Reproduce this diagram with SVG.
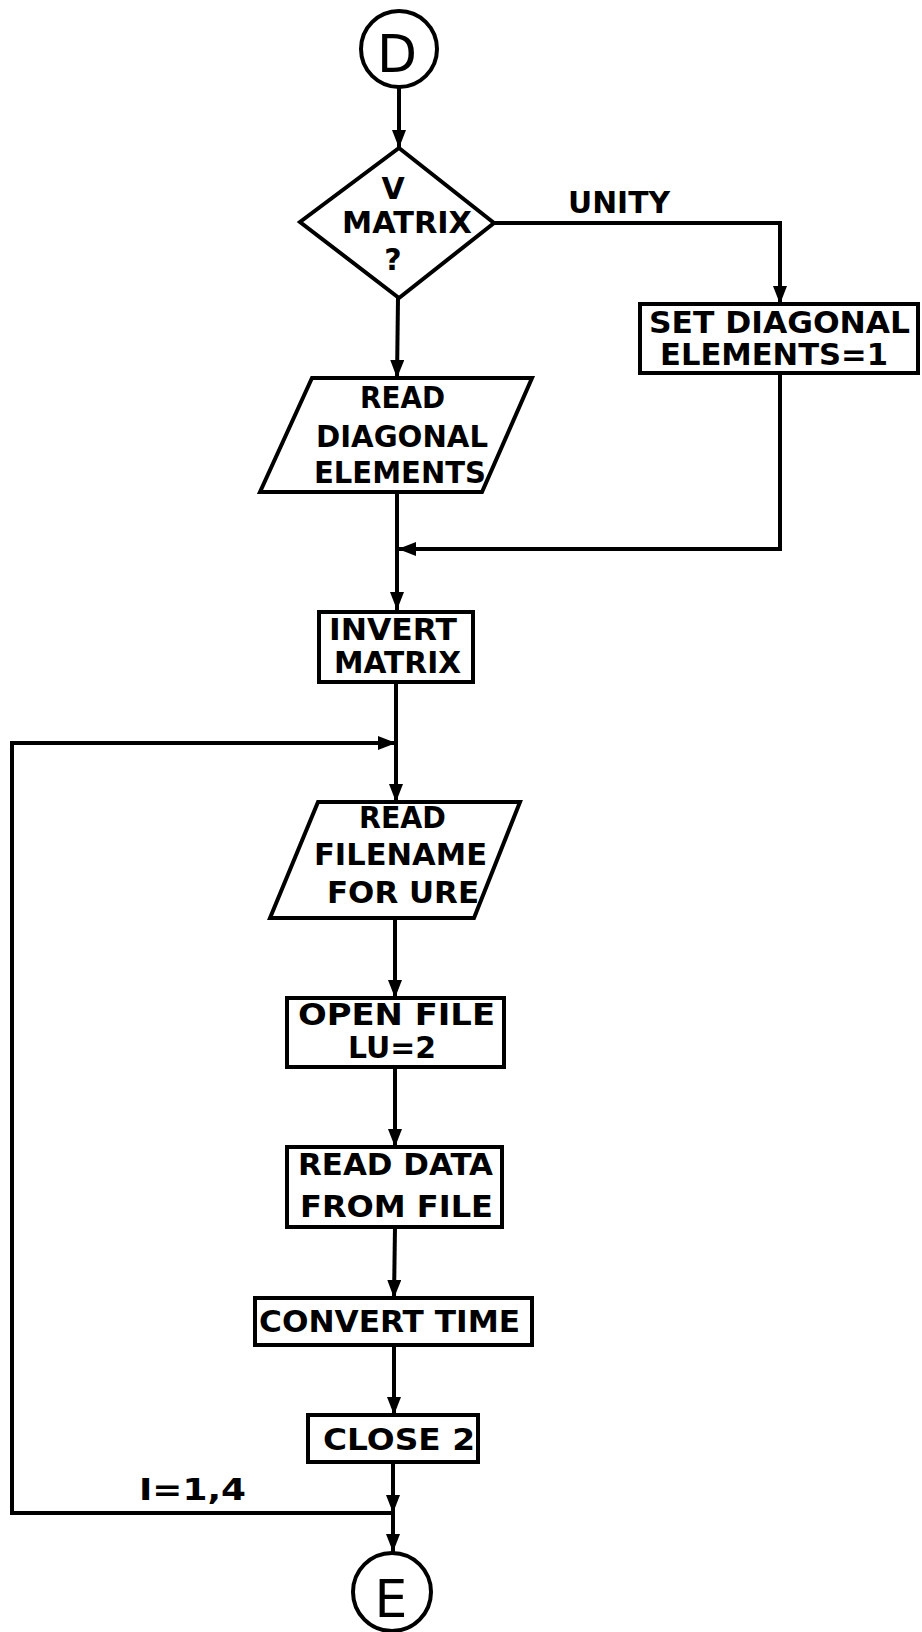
<svg xmlns="http://www.w3.org/2000/svg" width="922" height="1632" viewBox="0 0 922 1632">
<style>
.shape{fill:#fff;stroke:#000;stroke-width:4;stroke-linejoin:miter}
.line{fill:none;stroke:#000;stroke-width:4}
.t{font-family:"DejaVu Sans","Liberation Sans",sans-serif;font-weight:bold;font-size:30px;fill:#000}
.c{font-family:"DejaVu Sans","Liberation Sans",sans-serif;font-size:52px;fill:#000}
</style>
<defs>
<marker id="ah" markerUnits="userSpaceOnUse" markerWidth="18" markerHeight="14" refX="18" refY="7" orient="auto">
<path d="M0,0 L18,7 L0,14 z" fill="#000"/>
</marker>
</defs>
<rect width="922" height="1632" fill="#fff"/>
<g id="connectors">
<path class="line" d="M399,88 L399,148" marker-end="url(#ah)"/>
<path class="line" d="M494,223 L780,223 L780,304" marker-end="url(#ah)"/>
<path class="line" d="M398,298 L397,378" marker-end="url(#ah)"/>
<path class="line" d="M397,492 L397,610" marker-end="url(#ah)"/>
<path class="line" d="M780,373 L780,549 L398,549" marker-end="url(#ah)"/>
<path class="line" d="M396,682 L396,802" marker-end="url(#ah)"/>
<path class="line" d="M393,1513 L12,1513 L12,743 L396,743" marker-end="url(#ah)"/>
<path class="line" d="M395,918 L395,998" marker-end="url(#ah)"/>
<path class="line" d="M395,1067 L395,1147" marker-end="url(#ah)"/>
<path class="line" d="M395,1227 L394,1298" marker-end="url(#ah)"/>
<path class="line" d="M394,1345 L394,1415" marker-end="url(#ah)"/>
<path class="line" d="M393,1462 L393,1513" marker-end="url(#ah)"/>
<path class="line" d="M393,1513 L393,1552" marker-end="url(#ah)"/>
<text class="t" x="568" y="213" textLength="102" lengthAdjust="spacingAndGlyphs">UNITY</text>
<text class="t" x="139" y="1500" textLength="107" lengthAdjust="spacingAndGlyphs">I=1,4</text>
</g>
<g id="start-D">
<circle class="shape" cx="399" cy="49" r="38"/>
<text class="c" x="397" y="72" text-anchor="middle">D</text>
</g>
<g id="decision-V-matrix">
<polygon class="shape" points="399,148 494,223 399,298 300,222"/>
<text class="t" x="393" y="199" text-anchor="middle">V</text>
<text class="t" x="342" y="233" textLength="130" lengthAdjust="spacingAndGlyphs">MATRIX</text>
<text class="t" x="393" y="270" text-anchor="middle">?</text>
</g>
<g id="set-diagonal">
<rect class="shape" x="640" y="304" width="278" height="69"/>
<text class="t" x="649" y="333" textLength="261" lengthAdjust="spacingAndGlyphs">SET DIAGONAL</text>
<text class="t" x="660" y="365" textLength="228" lengthAdjust="spacingAndGlyphs">ELEMENTS=1</text>
</g>
<g id="read-diagonal">
<polygon class="shape" points="312,378 532,378 482,492 260,492"/>
<text class="t" x="360" y="408" textLength="85" lengthAdjust="spacingAndGlyphs">READ</text>
<text class="t" x="316" y="447" textLength="172" lengthAdjust="spacingAndGlyphs">DIAGONAL</text>
<text class="t" x="314" y="483" textLength="172" lengthAdjust="spacingAndGlyphs">ELEMENTS</text>
</g>
<g id="invert-matrix">
<rect class="shape" x="319" y="612" width="154" height="70"/>
<text class="t" x="329" y="640" textLength="128" lengthAdjust="spacingAndGlyphs">INVERT</text>
<text class="t" x="334" y="673" textLength="127" lengthAdjust="spacingAndGlyphs">MATRIX</text>
</g>
<g id="read-filename">
<polygon class="shape" points="318,802 520,802 474,918 270,918"/>
<text class="t" x="359" y="828" textLength="87" lengthAdjust="spacingAndGlyphs">READ</text>
<text class="t" x="314" y="865" textLength="173" lengthAdjust="spacingAndGlyphs">FILENAME</text>
<text class="t" x="327" y="903" textLength="152" lengthAdjust="spacingAndGlyphs">FOR URE</text>
</g>
<g id="open-file">
<rect class="shape" x="287" y="998" width="217" height="69"/>
<text class="t" x="298" y="1025" textLength="197" lengthAdjust="spacingAndGlyphs">OPEN FILE</text>
<text class="t" x="348" y="1058" textLength="88" lengthAdjust="spacingAndGlyphs">LU=2</text>
</g>
<g id="read-data">
<rect class="shape" x="287" y="1147" width="215" height="80"/>
<text class="t" x="298" y="1175" textLength="195" lengthAdjust="spacingAndGlyphs">READ DATA</text>
<text class="t" x="300" y="1217" textLength="193" lengthAdjust="spacingAndGlyphs">FROM FILE</text>
</g>
<g id="convert-time">
<rect class="shape" x="255" y="1298" width="277" height="47"/>
<text class="t" x="259" y="1332" textLength="261" lengthAdjust="spacingAndGlyphs">CONVERT TIME</text>
</g>
<g id="close-2">
<rect class="shape" x="308" y="1415" width="170" height="47"/>
<text class="t" x="323" y="1450" textLength="152" lengthAdjust="spacingAndGlyphs">CLOSE 2</text>
</g>
<g id="end-E">
<circle class="shape" cx="392" cy="1592" r="39"/>
<text class="c" x="391" y="1617" text-anchor="middle">E</text>
</g>
</svg>
